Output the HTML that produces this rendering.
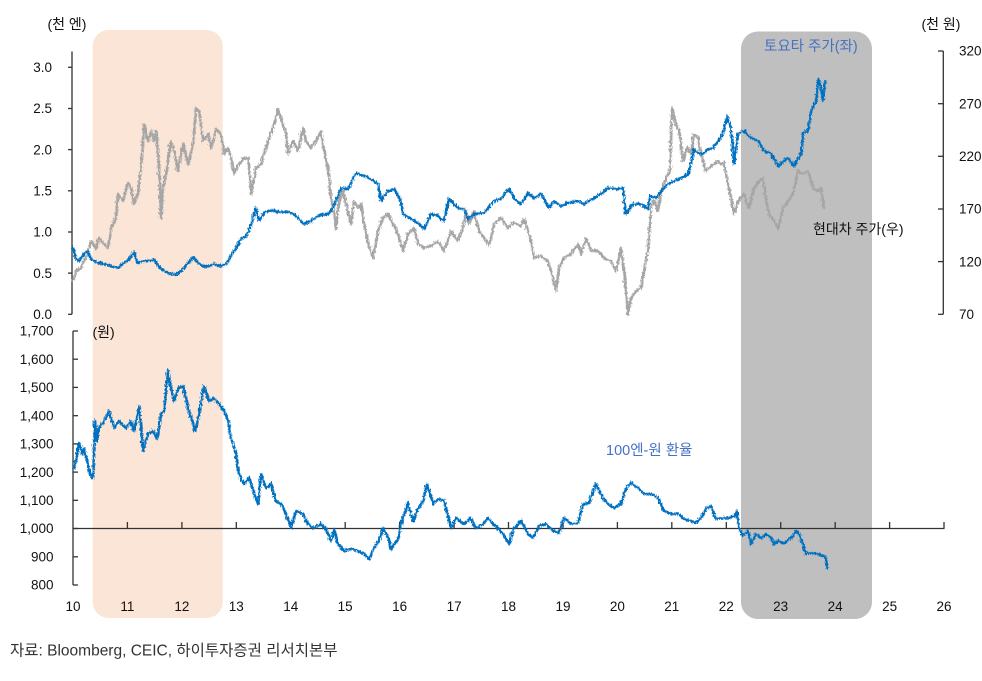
<!DOCTYPE html>
<html><head><meta charset="utf-8"><style>
html,body{margin:0;padding:0;background:#fff;}
svg{display:block;}
text{font-family:"Liberation Sans","Noto Sans CJK KR",sans-serif;}
.t{font-size:13.5px;fill:#111;}
.k{font-size:14px;}
</style></head><body>
<svg width="982" height="681" viewBox="0 0 982 681" xmlns="http://www.w3.org/2000/svg">
<defs>
<filter id="jg" filterUnits="userSpaceOnUse" x="0" y="0" width="982" height="681">
<feTurbulence type="turbulence" baseFrequency="0.55 0.25" numOctaves="2" seed="7" result="n"/>
<feDisplacementMap in="SourceGraphic" in2="n" scale="4" xChannelSelector="R" yChannelSelector="G"/>
</filter>
</defs>
<rect x="0" y="0" width="982" height="681" fill="#fff"/>
<rect x="92.7" y="30" width="130" height="588" rx="16" ry="16" fill="#FBE5D6"/>
<rect x="741" y="31.5" width="131" height="587.5" rx="17" ry="17" fill="#BFBFBF"/>

<g stroke="#333" stroke-width="1.3" fill="none">
<line x1="72" y1="51.5" x2="72" y2="314.3"/>
<line x1="68" y1="67.3" x2="72" y2="67.3"/><line x1="68" y1="108.5" x2="72" y2="108.5"/>
<line x1="68" y1="149.6" x2="72" y2="149.6"/><line x1="68" y1="190.8" x2="72" y2="190.8"/>
<line x1="68" y1="232" x2="72" y2="232"/><line x1="68" y1="273.1" x2="72" y2="273.1"/>
<line x1="68" y1="314.3" x2="72" y2="314.3"/>
<line x1="943.3" y1="51" x2="943.3" y2="314.3"/>
<line x1="938" y1="51" x2="943.3" y2="51"/><line x1="938" y1="103.7" x2="943.3" y2="103.7"/>
<line x1="938" y1="156.3" x2="943.3" y2="156.3"/><line x1="938" y1="209" x2="943.3" y2="209"/>
<line x1="938" y1="261.6" x2="943.3" y2="261.6"/><line x1="938" y1="314.3" x2="943.3" y2="314.3"/>
<line x1="73" y1="331" x2="73" y2="585"/>
<line x1="73" y1="331" x2="78" y2="331"/><line x1="73" y1="359.2" x2="78" y2="359.2"/>
<line x1="73" y1="387.4" x2="78" y2="387.4"/><line x1="73" y1="415.7" x2="78" y2="415.7"/>
<line x1="73" y1="443.9" x2="78" y2="443.9"/><line x1="73" y1="472.1" x2="78" y2="472.1"/>
<line x1="73" y1="500.3" x2="78" y2="500.3"/><line x1="73" y1="528.5" x2="78" y2="528.5"/>
<line x1="73" y1="556.8" x2="78" y2="556.8"/><line x1="73" y1="585" x2="78" y2="585"/>
<line x1="73" y1="528.5" x2="944.5" y2="528.5"/>
<line x1="127.4" y1="522" x2="127.4" y2="528.5"/><line x1="181.9" y1="522" x2="181.9" y2="528.5"/>
<line x1="236.3" y1="522" x2="236.3" y2="528.5"/><line x1="290.8" y1="522" x2="290.8" y2="528.5"/>
<line x1="345.2" y1="522" x2="345.2" y2="528.5"/><line x1="399.6" y1="522" x2="399.6" y2="528.5"/>
<line x1="454.1" y1="522" x2="454.1" y2="528.5"/><line x1="508.5" y1="522" x2="508.5" y2="528.5"/>
<line x1="563" y1="522" x2="563" y2="528.5"/><line x1="617.4" y1="522" x2="617.4" y2="528.5"/>
<line x1="671.8" y1="522" x2="671.8" y2="528.5"/><line x1="726.3" y1="522" x2="726.3" y2="528.5"/>
<line x1="780.7" y1="522" x2="780.7" y2="528.5"/><line x1="835.2" y1="522" x2="835.2" y2="528.5"/>
<line x1="889.6" y1="522" x2="889.6" y2="528.5"/><line x1="944" y1="522" x2="944" y2="528.5"/>
</g>

<g fill="none" stroke-linejoin="round" stroke-linecap="round" filter="url(#jg)">
<polyline stroke="#A6A6A6" stroke-width="2.6" points="71.7,280 75,270 80,267 83,260 87,253 90,240 95,248 98,237 103,243 107,247 110,227 115,217 117,193 122,200 127,182 130,187 133,203 137,192 140,167 143,123 147,140 150,130 153,140 155,130 157,150 159,187 160,217 162,187 165,173 170,140 173,150 177,170 182,143 187,163 192,143 195,107 198,110 202,140 207,133 210,147 215,128 220,133 223,153 227,147 230,157 233,173 238,163 243,157 247,157 250,193 255,167 260,163 267,140 272,127 277,108 280,117 285,133 287,153 292,140 297,150 302,127 305,140 310,147 315,140 320,130 323,150 327,167 330,197 333,213 335,228 338,200 342,190 347,210 350,223 353,200 357,207 360,203 363,223 367,243 372,257 377,230 382,217 387,213 392,223 397,233 402,250 407,233 413,227 417,243 423,247 430,245 437,240 443,250 450,230 457,240 462,227 465,210 468,223 473,210 478,230 483,237 488,245 493,223 500,217 507,227 513,222 520,225 523,218 530,240 533,257 540,255 547,260 552,277 555,290 558,267 563,257 570,253 577,243 580,253 585,237 590,250 597,250 603,257 610,260 615,270 620,247 623,270 627,313 630,297 635,290 640,287 643,270 647,250 650,207 653,200 657,210 660,190 663,183 667,173 669,170 671,107 675,123 678,130 680,143 682,160 686,147 690,153 693,133 697,137 700,153 705,170 710,165 717,160 720,163 723,162 727,183 730,197 733,213 737,200 743,193 748,207 753,187 758,180 762,177 765,200 768,213 773,220 777,228 782,207 787,200 792,193 797,170 802,173 807,170 812,187 817,190 820,187 823,207"/>
<polyline stroke="#0070C0" stroke-width="2.6" points="71.7,247 75,258 78,260 83,253 86,250 90,258 97,262 103,263 110,265 117,267 123,262 128,258 133,251 136,262 143,260 153,259 159,267 167,272 175,274 183,267 192,256 198,263 205,266 213,263 220,265 225,263 230,255 235,247 240,238 245,235 248,230 252,217 255,207 258,220 263,212 270,209 277,211 287,211 293,213 298,218 303,223 310,220 317,215 327,213 332,207 340,187 347,188 355,172 363,175 370,178 377,183 380,200 387,190 393,188 400,200 402,213 410,218 417,222 423,228 430,213 437,215 443,220 448,198 457,207 463,208 467,218 473,213 483,212 493,200 500,198 508,188 515,200 520,203 527,192 533,197 540,193 548,207 553,200 560,205 567,202 577,200 583,203 593,197 600,193 607,187 615,188 622,187 625,213 630,205 637,202 643,205 647,208 649,195 655,197 660,190 667,183 673,180 680,177 687,173 690,163 693,148 698,153 703,152 707,148 712,147 717,140 722,133 726,115 730,127 733,163 737,133 743,130 750,137 757,140 763,150 770,152 777,165 787,157 793,165 800,153 802,132 807,130 810,110 815,100 817,78 820,87 822,100 824,80"/>
<polyline stroke="#0070C0" stroke-width="2.6" points="73,467 76,453 78,442 81,453 83,447 86,460 89,473 92,477 94,420 96,440 98,427 103,420 108,410 113,427 118,420 125,427 130,420 133,430 138,405 142,450 147,433 152,430 156,438 160,413 163,410 167,370 169,383 173,400 177,387 182,385 187,407 192,423 194,430 198,413 203,385 208,400 213,398 218,403 223,410 227,420 230,437 235,453 238,473 243,483 248,477 253,493 257,503 260,473 265,487 270,483 275,500 280,503 285,513 290,527 295,510 302,513 307,523 313,527 320,523 325,528 330,540 333,528 337,543 343,550 350,548 357,550 363,553 368,558 373,547 378,540 382,527 387,537 390,548 397,538 402,517 407,502 412,520 417,508 422,500 426,483 432,503 437,498 443,500 450,527 455,517 463,523 470,517 475,528 482,523 487,517 492,523 497,527 502,533 508,543 513,527 520,520 527,533 532,537 538,525 545,523 552,530 558,532 563,517 570,523 577,522 582,503 588,502 595,483 602,497 607,503 613,507 620,503 625,487 630,482 637,487 643,493 650,493 657,497 663,510 670,513 677,513 683,518 690,520 695,522 700,517 705,508 710,505 715,518 720,517 728,517 733,515 736,510 738,527 742,535 747,530 750,543 755,533 760,537 765,533 770,537 773,543 778,540 783,542 790,537 795,530 798,533 802,543 805,553 810,552 817,553 822,555 825,557 826,567"/>
</g>

<g class="t" text-anchor="end">
<text x="52" y="72">3.0</text><text x="52" y="113.2">2.5</text><text x="52" y="154.3">2.0</text>
<text x="52" y="195.5">1.5</text><text x="52" y="236.7">1.0</text><text x="52" y="277.8">0.5</text>
<text x="52" y="319">0.0</text>
<text x="53.5" y="335.7">1,700</text><text x="53.5" y="363.9">1,600</text><text x="53.5" y="392.1">1,500</text>
<text x="53.5" y="420.4">1,400</text><text x="53.5" y="448.6">1,300</text><text x="53.5" y="476.8">1,200</text>
<text x="53.5" y="505">1,100</text><text x="53.5" y="533.2">1,000</text><text x="53.5" y="561.5">900</text>
<text x="53.5" y="589.7">800</text>
</g>
<g class="t">
<text x="959" y="55.7">320</text><text x="959" y="108.4">270</text><text x="959" y="161">220</text>
<text x="959" y="213.7">170</text><text x="959" y="266.3">120</text><text x="959" y="319">70</text>
</g>
<g class="t" text-anchor="middle">
<text x="73" y="611">10</text><text x="127.4" y="611">11</text><text x="181.9" y="611">12</text>
<text x="236.3" y="611">13</text><text x="290.8" y="611">14</text><text x="345.2" y="611">15</text>
<text x="399.6" y="611">16</text><text x="454.1" y="611">17</text><text x="508.5" y="611">18</text>
<text x="563" y="611">19</text><text x="617.4" y="611">20</text><text x="671.8" y="611">21</text>
<text x="726.3" y="611">22</text><text x="780.7" y="611">23</text><text x="835.2" y="611">24</text>
<text x="889.6" y="611">25</text><text x="944" y="611">26</text>
</g>

<text class="k" x="47.5" y="29" fill="#111">(천 엔)</text>
<text class="k" x="921.5" y="29" fill="#111">(천 원)</text>
<text class="k" x="92.5" y="337" fill="#111">(원)</text>
<text x="764" y="51" font-size="14.5" fill="#4472C4">토요타 주가(좌)</text>
<text class="k" x="813" y="234" fill="#111">현대차 주가(우)</text>
<text x="606" y="455" font-size="14.5" fill="#4472C4">100엔-원 환율</text>
<text x="10" y="655.5" font-size="15.5" fill="#333">자료: Bloomberg, CEIC, 하이투자증권 리서치본부</text>
</svg>
</body></html>
